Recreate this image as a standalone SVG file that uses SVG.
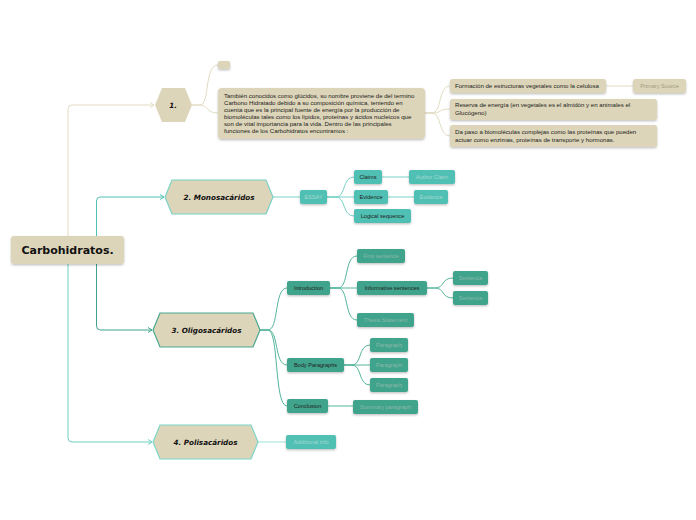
<svg xmlns="http://www.w3.org/2000/svg" width="696" height="520" viewBox="0 0 696 520">
<style>
.bg{fill:#ffffff}
.beige{fill:#ddd5b9}
.sh{filter:url(#ds)}
.t{font-family:"Liberation Sans",Arial,sans-serif;font-size:5.6px;fill:#222}
.tb{font-size:6.1px}
.tc{text-anchor:middle}
.hx{font-family:"DejaVu Sans",Verdana,sans-serif;font-weight:bold;font-style:italic;font-size:7.2px;fill:#111;text-anchor:middle}
.root{font-family:"DejaVu Sans",Verdana,sans-serif;font-weight:bold;font-size:11px;fill:#111;text-anchor:middle}
.c{fill:none;stroke-width:1}
.cb{stroke:#e2dbc2}
.c2{stroke:#78d2c6}
.c3{stroke:#55b59d}
.c4{stroke:#9fe0d7}
.n2{fill:#4fc0b3}
.n3{fill:#3fa38b}
.faint2{fill:#a8d8d1}
.faint3{fill:#8bb8ad}
.faintb{fill:#a39b83}
</style>
<defs>
<filter id="ds" x="-20%" y="-30%" width="140%" height="170%">
<feDropShadow dx="0" dy="1.2" stdDeviation="0.9" flood-color="#000" flood-opacity="0.25"/>
</filter>
<marker id="ab" markerWidth="6" markerHeight="6" refX="5" refY="3" orient="auto" markerUnits="userSpaceOnUse"><path d="M1,0.5 L5,3 L1,5.5" fill="none" stroke="#e2dbc2" stroke-width="1"/></marker>
<marker id="a2" markerWidth="6" markerHeight="6" refX="5" refY="3" orient="auto" markerUnits="userSpaceOnUse"><path d="M1,0.5 L5,3 L1,5.5" fill="none" stroke="#4fc0b3" stroke-width="1"/></marker>
<marker id="a3" markerWidth="6" markerHeight="6" refX="5" refY="3" orient="auto" markerUnits="userSpaceOnUse"><path d="M1,0.5 L5,3 L1,5.5" fill="none" stroke="#3fa38b" stroke-width="1"/></marker>
<marker id="a4" markerWidth="6" markerHeight="6" refX="5" refY="3" orient="auto" markerUnits="userSpaceOnUse"><path d="M1,0.5 L5,3 L1,5.5" fill="none" stroke="#6fcfc2" stroke-width="1"/></marker>
</defs>
<rect class="bg" x="0" y="0" width="696" height="520"/>

<g id="connectors">
<path class="c cb" d="M68,236 V109 Q68,105 72,105 H154" marker-end="url(#ab)"/>
<path class="c" stroke="#4fc0b3" d="M96.5,236 V201 Q96.5,197 100.5,197 H164" marker-end="url(#a2)"/>
<path class="c" stroke="#3fa38b" d="M96.5,264 V326 Q96.5,330 100.5,330 H152" marker-end="url(#a3)"/>
<path class="c" stroke="#6fcfc2" d="M68,264 V438 Q68,442 72,442 H152" marker-end="url(#a4)"/>

<path class="c cb" d="M192,105 H200 C210,105 204,65 218,65"/>
<path class="c cb" d="M192,105 H200 C208,105 206,113 218,113"/>
<path class="c cb" d="M425,113 H432 C442,113 438,86 450,86"/>
<path class="c cb" d="M425,113 H432 C442,113 438,109 450,109"/>
<path class="c cb" d="M425,113 H432 C442,113 438,136 450,136"/>
<path class="c cb" d="M606,86 H633"/>

<path class="c c2" d="M273,197 H300"/>
<path class="c c2" d="M327,197 H336 C346,197 342,177 354,177"/>
<path class="c c2" d="M327,197 H354"/>
<path class="c c2" d="M327,197 H336 C346,197 342,216 354,216"/>
<path class="c c2" d="M382,177 H409"/>
<path class="c c2" d="M388,197 H414"/>

<path class="c c3" d="M260,330 H268 C279,330 274,288 287,288"/>
<path class="c c3" d="M260,330 H268 C279,330 274,365 287,365"/>
<path class="c c3" d="M260,330 H268 C279,330 274,406 287,406"/>
<path class="c c3" d="M330,288 H338 C349,288 344,256 357,256"/>
<path class="c c3" d="M330,288 H357"/>
<path class="c c3" d="M330,288 H338 C349,288 344,320 357,320"/>
<path class="c c3" d="M427,288 H435 C445,288 441,278 453,278"/>
<path class="c c3" d="M427,288 H435 C445,288 441,298 453,298"/>
<path class="c c3" d="M344,365 H352 C362,365 358,345 370,345"/>
<path class="c c3" d="M344,365 H370"/>
<path class="c c3" d="M344,365 H352 C362,365 358,385 370,385"/>
<path class="c c3" d="M328,406 H353"/>

<path class="c c4" d="M258,442 H286"/>
</g>

<g id="root"><rect class="beige sh" x="11" y="236" width="113" height="28" rx="3"/><text class="root" x="67.5" y="254">Carbohidratos.</text></g>

<g id="n1"><polygon class="beige" points="155,105 162,88 185,88 192,105 185,122 162,122"/><text class="hx" x="173" y="108">1.</text></g>
<g id="n2"><polygon class="beige" stroke="#78d2c6" stroke-width="1.2" points="165,197 172,180 266,180 273,197 266,214 172,214"/><text class="hx" x="219" y="200">2. Monosacáridos</text></g>
<g id="n3"><polygon class="beige" stroke="#4aa891" stroke-width="1.2" points="153,330 160,313 253,313 260,330 253,347 160,347"/><text class="hx" x="206.5" y="333">3. Oligosacáridos</text></g>
<g id="n4"><polygon class="beige" stroke="#7dd6ca" stroke-width="1.2" points="153,442 160,425 251,425 258,442 251,459 160,459"/><text class="hx" x="205.5" y="445">4. Polisacáridos</text></g>

<g id="n1-empty"><rect class="beige sh" x="218" y="61" width="12" height="8" rx="1.5"/></g>
<g id="n1-text"><rect class="beige sh" x="218" y="88" width="207" height="51" rx="4"/>
<text class="t tb" x="224" y="98">También conocidos como glúcidos, su nombre proviene de del termino</text>
<text class="t tb" x="224" y="105">Carbono Hidratado  debido a su composición química, teniendo en</text>
<text class="t tb" x="224" y="112">cuenta que es la principal fuente de energía  por la producción   de</text>
<text class="t tb" x="224" y="119">biomoléculas tales como los lípidos, proteínas y ácidos nucleicos que</text>
<text class="t tb" x="224" y="126">son de vital importancia para la vida. Dentro de las principales</text>
<text class="t tb" x="224" y="133">funciones de los Carbohidratos encontramos :</text></g>
<g id="n1-a"><rect class="beige sh" x="450" y="79" width="156" height="14" rx="2.5"/><text class="t tb" x="455" y="88">Formación de estructuras vegetales como la celulosa</text></g>
<g id="n1-a-src"><rect class="beige sh" x="633" y="79" width="53" height="14" rx="2.5"/><text class="t tc faintb" x="659.5" y="88">Primary Source</text></g>
<g id="n1-b"><rect class="beige sh" x="450" y="99" width="207" height="21" rx="2.5"/><text class="t tb" x="455" y="107">Reserva  de energía (en vegetales es el almidón y en animales el</text><text class="t tb" x="455" y="115">Glucógeno)</text></g>
<g id="n1-c"><rect class="beige sh" x="450" y="125" width="207" height="22" rx="2.5"/><text class="t tb" x="455" y="134">Da paso a biomoléculas complejas como las proteínas que pueden</text><text class="t tb" x="455" y="142">actuar como enzimas, proteínas de transporte y hormonas.</text></g>

<g id="essay"><rect class="n2 sh" x="300" y="190" width="27" height="14" rx="2"/><text class="t tc faint2" x="313.5" y="199">ESSAY</text></g>
<g id="claims"><rect class="n2 sh" x="354" y="170" width="28" height="14" rx="2"/><text class="t tc" x="368" y="179">Claims</text></g>
<g id="author-claim"><rect class="n2 sh" x="409" y="170" width="46" height="14" rx="2"/><text class="t tc faint2" x="432" y="179">Author Claim</text></g>
<g id="evidence"><rect class="n2 sh" x="354" y="190" width="34" height="14" rx="2"/><text class="t tc" x="371" y="199">Evidence</text></g>
<g id="evidence2"><rect class="n2 sh" x="414" y="190" width="34" height="14" rx="2"/><text class="t tc faint2" x="431" y="199">Evidence</text></g>
<g id="logical"><rect class="n2 sh" x="354" y="209" width="57" height="14" rx="2"/><text class="t tc" x="382.5" y="218">Logical sequence</text></g>

<g id="intro"><rect class="n3 sh" x="287" y="281" width="43" height="14" rx="2"/><text class="t tc" x="308.5" y="290">Introduction</text></g>
<g id="first"><rect class="n3 sh" x="357" y="249" width="48" height="14" rx="2"/><text class="t tc faint3" x="381" y="258">First sentence</text></g>
<g id="informative"><rect class="n3 sh" x="357" y="281" width="70" height="14" rx="2"/><text class="t tc" x="392" y="290">Informative sentences</text></g>
<g id="sent1"><rect class="n3 sh" x="453" y="271" width="35" height="14" rx="2"/><text class="t tc faint3" x="470.5" y="280">Sentence</text></g>
<g id="sent2"><rect class="n3 sh" x="453" y="291" width="35" height="14" rx="2"/><text class="t tc faint3" x="470.5" y="300">Sentence</text></g>
<g id="thesis"><rect class="n3 sh" x="357" y="313" width="57" height="14" rx="2"/><text class="t tc faint3" x="385.5" y="322">Thesis Statement</text></g>
<g id="body"><rect class="n3 sh" x="287" y="358" width="57" height="14" rx="2"/><text class="t tc" x="315.5" y="367">Body Paragraphs</text></g>
<g id="par1"><rect class="n3 sh" x="370" y="338" width="38" height="14" rx="2"/><text class="t tc faint3" x="389" y="347">Paragraph</text></g>
<g id="par2"><rect class="n3 sh" x="370" y="358" width="38" height="14" rx="2"/><text class="t tc faint3" x="389" y="367">Paragraph</text></g>
<g id="par3"><rect class="n3 sh" x="370" y="378" width="38" height="14" rx="2"/><text class="t tc faint3" x="389" y="387">Paragraph</text></g>
<g id="conclusion"><rect class="n3 sh" x="287" y="399" width="41" height="14" rx="2"/><text class="t tc" x="307.5" y="408">Conclusion</text></g>
<g id="summary"><rect class="n3 sh" x="353" y="400" width="65" height="14" rx="2"/><text class="t tc faint3" x="385.5" y="409">Summary paragraph</text></g>

<g id="additional"><rect class="n2 sh" x="286" y="435" width="50" height="14" rx="2"/><text class="t tc faint2" x="311" y="444">Additional info</text></g>
</svg>
